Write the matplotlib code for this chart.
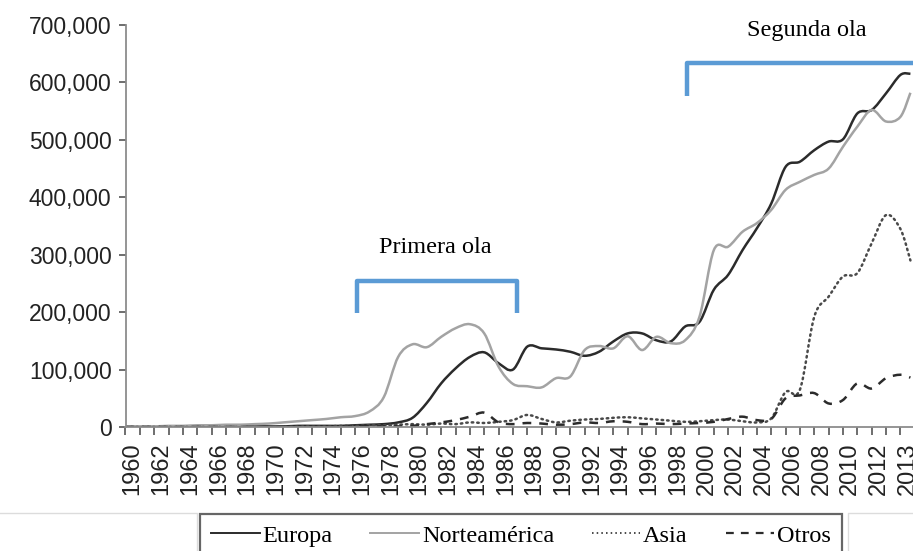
import numpy as np
import matplotlib
matplotlib.use('Agg')
import matplotlib.pyplot as plt
from matplotlib.path import Path
from matplotlib.patches import PathPatch
from matplotlib.lines import Line2D
from matplotlib.ticker import FuncFormatter, FixedLocator, NullFormatter

plt.rcParams['font.family'] = 'Liberation Sans'

# valores (miles), 1960-2014 + último punto en el borde
years = np.append(np.arange(1960, 2015), 2014.7)

europa = [0, 0, 0, 0, 1, 1, 1, 1, 1, 1,
          1, 1, 2, 2, 2, 2, 3, 4, 5, 8,
          16, 42, 76, 102, 122, 130, 111, 100, 140, 137,
          135, 131, 124, 131, 149, 163, 163, 151, 149, 175,
          183, 239, 265, 308, 346, 389, 453, 462, 482, 497,
          501, 546, 552, 581, 613, 615]
norteamerica = [1, 1, 1, 2, 2, 3, 3, 4, 4, 5,
                6, 8, 10, 12, 14, 17, 19, 27, 52, 122,
                144, 139, 157, 172, 179, 163, 105, 75, 71, 69,
                85, 88, 134, 141, 137, 158, 134, 157, 146, 151,
                192, 308, 314, 340, 355, 378, 413, 427, 439, 450,
                488, 523, 552, 532, 540, 582]
asia = [0, 0, 0, 0, 0, 0, 0, 0, 0, 0,
        0, 0, 1, 1, 1, 2, 2, 3, 3, 4,
        5, 4, 6, 5, 8, 7, 9, 12, 21, 14,
        8, 11, 13, 14, 16, 17, 15, 13, 11, 9,
        10, 12, 13, 10, 8, 15, 61, 65, 192, 227,
        262, 268, 320, 369, 345, 290]
otros = [0, 0, 0, 0, 0, 0, 0, 0, 0, 0,
         0, 0, 0, 0, 0, 0, 1, 1, 1, 1,
         2, 5, 8, 12, 18, 25, 8, 5, 7, 6,
         4, 5, 8, 7, 10, 9, 5, 6, 5, 6,
         7, 9, 14, 18, 12, 14, 50, 55, 59, 41,
         47, 76, 67, 85, 91, 86]

series_names = ['Europa', 'Norteamérica', 'Asia', 'Otros']
series_values = [europa, norteamerica, asia, otros]
series_colors = ['#2b2b2b', '#a3a3a3', '#4a4a4a', '#2b2b2b']
series_styles = ['-', '-', (0, (0.6, 1.6)), (0, (3.5, 3.2))]

tick_years = np.arange(1960, 2015)
tick_labels = [str(y) if y % 2 == 0 else '' for y in tick_years]
tick_labels[-1] = '2013'

serif = 'Liberation Serif'
blue = '#5b9bd5'


def smooth_path(x, y):
    # curva suavizada (tipo Excel) con segmentos Bezier entre los puntos
    pts = np.column_stack([x, y]).astype(float)
    n = len(pts)
    verts = [pts[0]]
    codes = [Path.MOVETO]
    for i in range(n - 1):
        p0 = pts[max(i - 1, 0)]
        p1 = pts[i]
        p2 = pts[i + 1]
        p3 = pts[min(i + 2, n - 1)]
        verts += [p1 + (p2 - p0) / 6, p2 - (p3 - p1) / 6, p2]
        codes += [Path.CURVE4] * 3
    return Path(verts, codes)


fig = plt.figure(figsize=(9.13, 5.51), dpi=100)
ax = fig.add_axes([125.5 / 913, 1 - 427 / 551, (913 - 125.5) / 913, (427 - 25) / 551])

handles = []
for name, vals, col, ls in zip(series_names, series_values, series_colors, series_styles):
    path = smooth_path(years, np.array(vals) * 1000)
    ax.add_patch(PathPatch(path, fill=False, edgecolor=col, lw=1.8, linestyle=ls,
                           capstyle='round' if name == 'Asia' else 'butt',
                           joinstyle='round'))
    handles.append(Line2D([], [], color=col, lw=1.4 if name != 'Otros' else 1.6,
                          linestyle=ls if name != 'Asia' else (0, (0.8, 1.6)),
                          label=name))

ax.set_xlim(1960, 2014.88)
ax.set_ylim(0, 700000)

for s in ['top', 'right']:
    ax.spines[s].set_visible(False)
for s in ['left', 'bottom']:
    ax.spines[s].set_color('#8c8c8c')
    ax.spines[s].set_linewidth(1.3)

ax.set_yticks(np.arange(0, 700001, 100000))
ax.yaxis.set_major_formatter(FuncFormatter(lambda v, p: f'{int(v):,}'))
ax.tick_params(axis='y', length=5, width=1.2, color='#555555', pad=5,
               labelsize=16.5, labelcolor='#222222')

# marcas en cada año, etiquetas centradas entre marcas
ax.xaxis.set_major_locator(FixedLocator(tick_years))
ax.xaxis.set_major_formatter(NullFormatter())
ax.xaxis.set_minor_locator(FixedLocator(tick_years + 0.5))
ax.xaxis.set_minor_formatter(FuncFormatter(lambda v, p: tick_labels[int(v - 1960)]))
ax.tick_params(axis='x', which='major', length=6, width=1.2, color='#555555')
ax.tick_params(axis='x', which='minor', length=0, pad=11, labelsize=17,
               labelrotation=90, labelcolor='#222222')

# llaves de las olas
ax.plot([1976.1, 1976.1, 1987.3, 1987.3], [198000, 254000, 254000, 198000],
        color=blue, lw=3.2, solid_joinstyle='round', solid_capstyle='butt', clip_on=False)
ax.text(1981.6, 312000, 'Primera ola', fontfamily=serif, fontsize=17.5,
        ha='center', va='center', color='black')
ax.plot([1999.1, 1999.1, 2016], [576000, 634000, 634000],
        color=blue, lw=3.2, solid_joinstyle='round', solid_capstyle='butt', clip_on=False)
ax.text(2007.45, 691000, 'Segunda ola', fontfamily=serif, fontsize=17.5,
        ha='center', va='center', color='black')

leg = fig.legend(handles=handles, loc='upper left',
                 bbox_to_anchor=(200 / 913, 1 - 514 / 551), ncol=4, frameon=True,
                 fancybox=False, edgecolor='#404040',
                 prop={'family': serif, 'size': 17.5}, handlelength=2.0,
                 handletextpad=0.12, columnspacing=1.55, borderpad=0.45,
                 borderaxespad=0)
leg.get_frame().set_linewidth(1.6)

# bordes tenues de los recuadros vecinos
fig.add_artist(Line2D([0, 197 / 913, 197 / 913], [1 - 513 / 551, 1 - 513 / 551, 0],
                      transform=fig.transFigure, color='#dcdcdc', lw=1))
fig.add_artist(Line2D([848 / 913, 848 / 913, 1], [0, 1 - 513 / 551, 1 - 513 / 551],
                      transform=fig.transFigure, color='#dcdcdc', lw=1))

fig.savefig('out.png', dpi=100)
